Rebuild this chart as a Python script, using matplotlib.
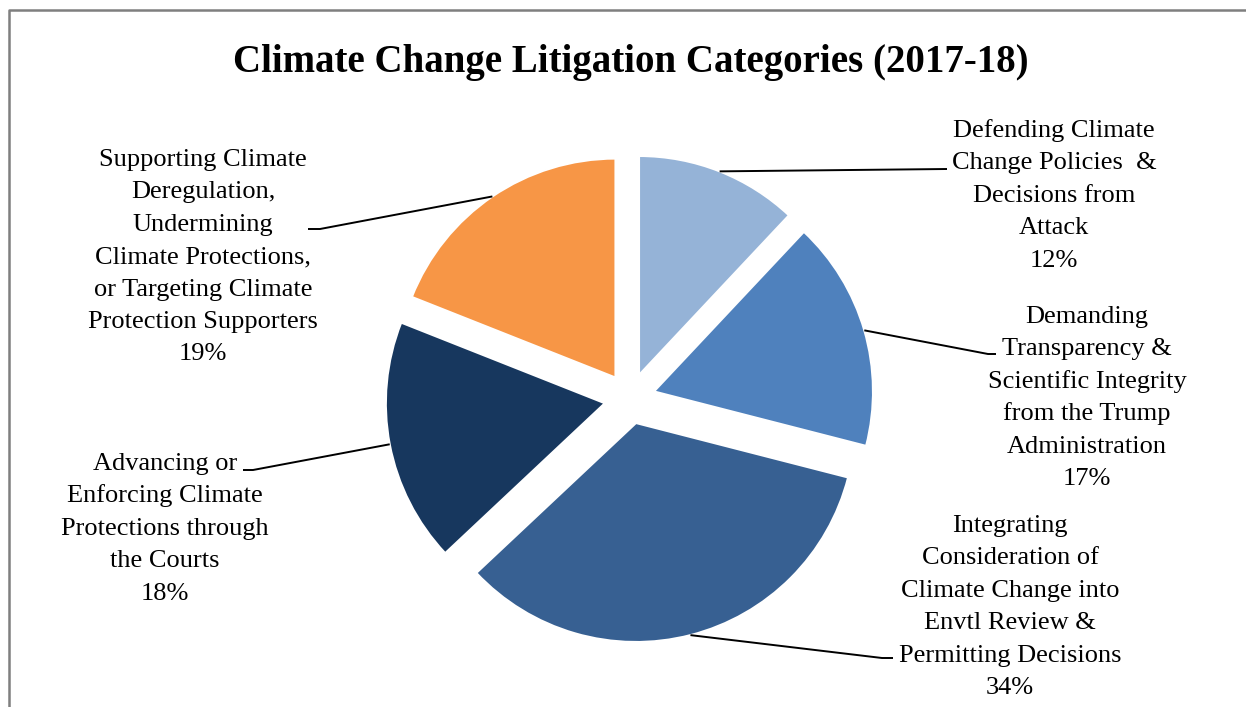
import matplotlib
matplotlib.use("Agg")
import matplotlib.pyplot as plt
import numpy as np
from matplotlib.lines import Line2D

# ---- data ----
categories = [
    "Defending Climate\nChange Policies  &\nDecisions from\nAttack",
    "Demanding\nTransparency &\nScientific Integrity\nfrom the Trump\nAdministration",
    "Integrating\nConsideration of\nClimate Change into\nEnvtl Review &\nPermitting Decisions",
    "Advancing or\nEnforcing Climate\nProtections through\nthe Courts",
    "Supporting Climate\nDeregulation,\nUndermining\nClimate Protections,\nor Targeting Climate\nProtection Supporters",
]
shares = [12, 17, 34, 18, 19]
colors = ["#95B3D7", "#4F81BD", "#376092", "#17375E", "#F79646"]
title = "Climate Change Litigation Categories (2017-18)"

# ---- layout (pixel units, y measured from top) ----
W, H = 1246, 707
FONT = "Liberation Serif"
label_pos = [(1054, 137), (1087, 323), (1010, 532), (165, 470), (203, 166)]
elbows = [
    [(947, 169)],
    [(988, 354), (996, 354)],
    [(882, 658), (893, 658)],
    [(253, 470), (243, 470)],
    [(320, 229), (308, 229)],
]
line_step = 32.4

fig = plt.figure(figsize=(W / 100, H / 100), dpi=100)
ax = fig.add_axes([0, 0, 1, 1])
wedges, _ = ax.pie(
    shares, colors=colors, startangle=90, counterclock=False,
    explode=[25.3] * len(shares), radius=219, center=(629.7, H - 398.5),
    wedgeprops=dict(edgecolor="white", linewidth=1.5),
)
ax.set_xlim(0, W)
ax.set_ylim(0, H)
ax.set_aspect("equal")
ax.axis("off")

for w, pts in zip(wedges, elbows):
    tm = np.deg2rad((w.theta1 + w.theta2) / 2)
    cx, cy = w.center
    sx, sy = cx + w.r * np.cos(tm), cy + w.r * np.sin(tm)
    xs = [sx] + [p[0] for p in pts]
    ys = [sy] + [H - p[1] for p in pts]
    ax.plot(xs, ys, color="black", lw=1.4, solid_capstyle="butt", zorder=3)

for cat, val, (lx, ly) in zip(categories, shares, label_pos):
    lines = cat.split("\n") + [f"{val}%"]
    for k, s in enumerate(lines):
        ax.text(lx, H - (ly + k * line_step), s, ha="center", va="baseline",
                fontsize=19, family=FONT, color="black")

ax.text(631, H - 72, title, ha="center", va="baseline", fontsize=28,
        fontweight="bold", family=FONT, color="black")

fig.add_artist(Line2D([8.8 / W, 8.8 / W, 1.01], [-0.01, (H - 10) / H, (H - 10) / H],
                      transform=fig.transFigure, color="#7f7f7f", lw=1.8))

fig.savefig("out.png", dpi=100, facecolor="white")
